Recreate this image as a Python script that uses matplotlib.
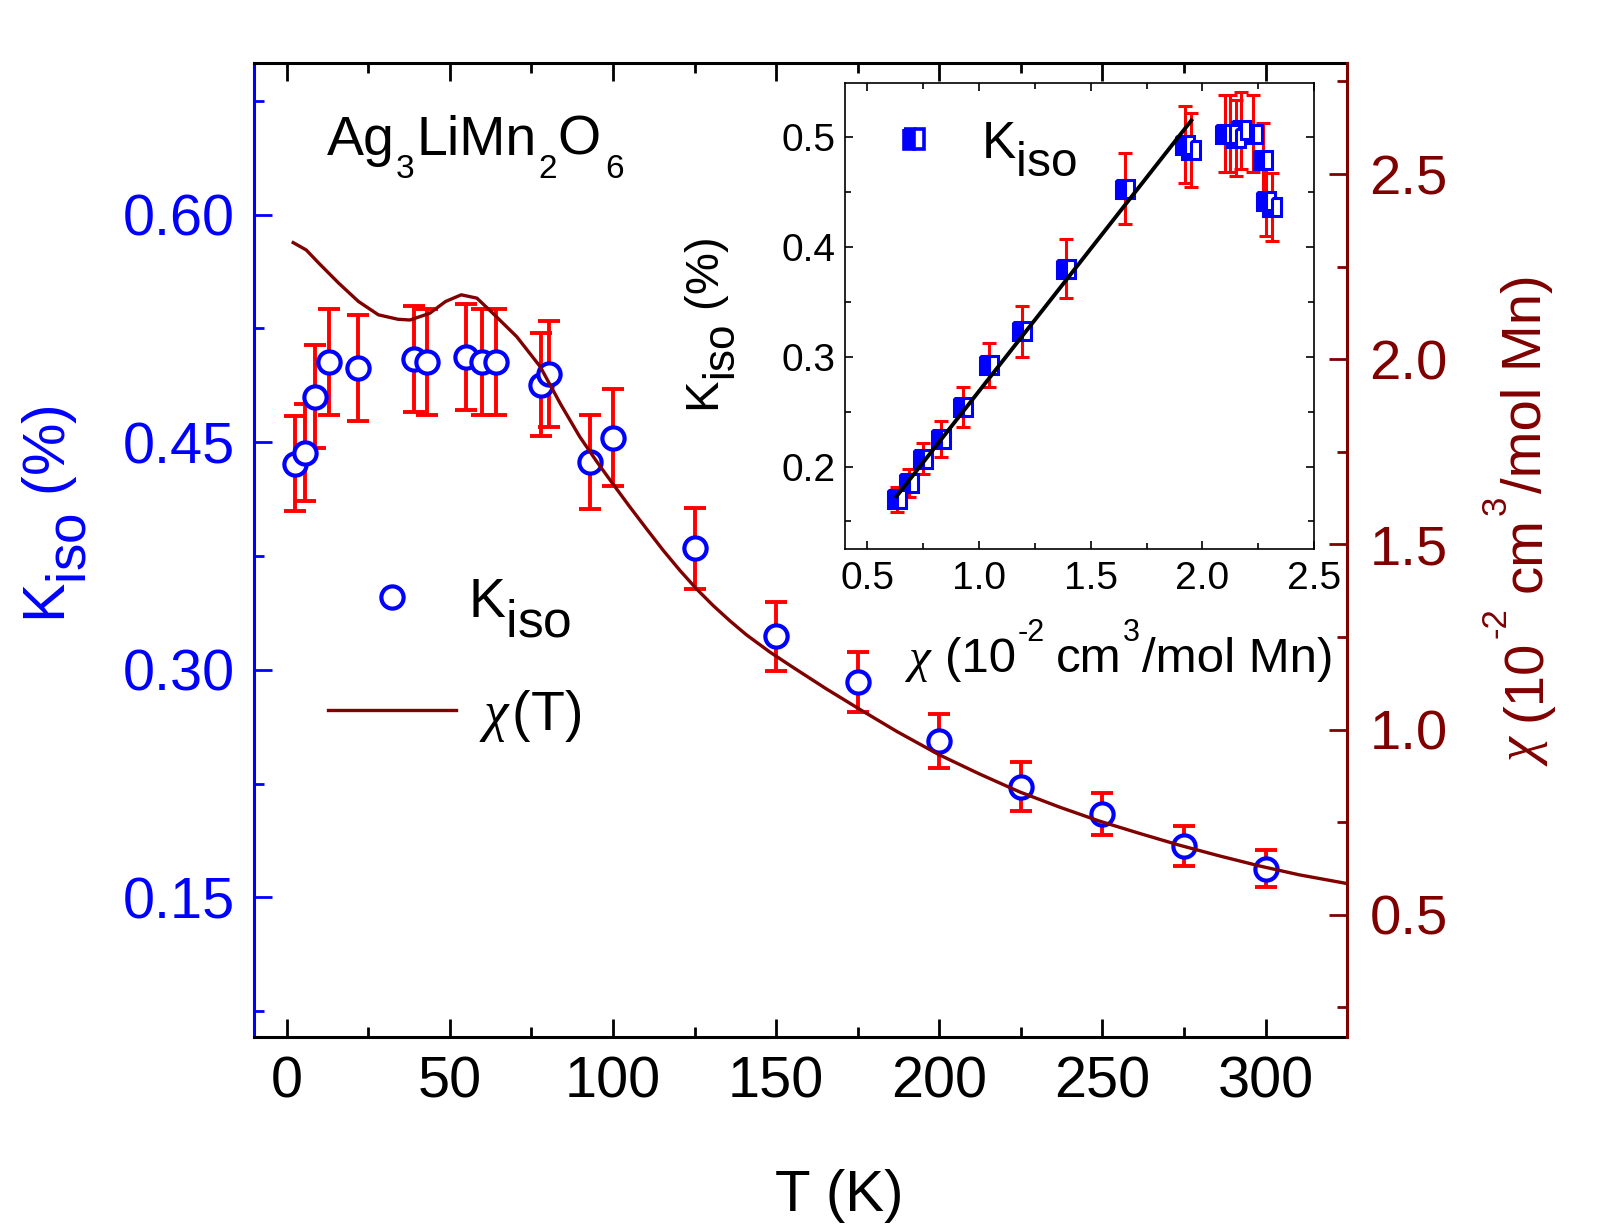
import matplotlib
matplotlib.use("Agg")
import matplotlib.pyplot as plt
import matplotlib._mathtext as _mt
from matplotlib.ticker import MultipleLocator, FormatStrFormatter
from matplotlib.lines import Line2D
from matplotlib.transforms import offset_copy

plt.rcParams['font.family'] = ['Liberation Sans', 'DejaVu Sans']
plt.rcParams['mathtext.fontset'] = 'custom'
plt.rcParams['mathtext.rm'] = 'Liberation Sans'
plt.rcParams['mathtext.it'] = 'Liberation Serif:italic'
plt.rcParams['mathtext.bf'] = 'Liberation Sans:bold'
# Origin-style subscripts: nearly full size, well lowered
_mt.SHRINK_FACTOR = 0.93
_mt.FontConstantsBase.sub1 = 0.8

# ---------------- data ----------------
T_K = [2.5, 5.5, 8.8, 13, 22, 39, 43, 55, 60, 64, 78, 80.5, 93, 100,
       125, 150, 175, 200, 225, 250, 275, 300]
K_iso = [0.436, 0.443, 0.480, 0.503, 0.499, 0.505, 0.503, 0.506, 0.503, 0.503,
         0.488, 0.495, 0.437, 0.453, 0.380, 0.322, 0.292, 0.253, 0.223, 0.205,
         0.184, 0.169]
K_err = [0.031, 0.032, 0.034, 0.035, 0.035, 0.035, 0.035, 0.035, 0.035, 0.035,
         0.034, 0.035, 0.031, 0.032, 0.027, 0.023, 0.020, 0.018, 0.016, 0.014,
         0.013, 0.012]

chi_T = [2.0, 6.0, 9.9, 16.0, 22.0, 28.1, 34.1, 37.8, 43.8, 48.7, 53.5, 58.3,
         63.2, 70.5, 77.7, 84.0, 89.8, 95.0, 100.1, 105.2, 110.3, 115.4, 120.5,
         125.6, 130.7, 135.8, 140.9, 148.0, 155.2, 165.4, 175.6, 187.0, 200.0,
         212.4, 224.6, 236.8, 249.1, 261.3, 273.6, 285.9, 298.1, 310.3, 324.6]
chi_val = [2.315, 2.295, 2.259, 2.205, 2.156, 2.120, 2.108, 2.106, 2.124, 2.156,
           2.174, 2.165, 2.124, 2.061, 1.980, 1.878, 1.791, 1.724, 1.662, 1.601,
           1.542, 1.484, 1.430, 1.380, 1.335, 1.294, 1.256, 1.210, 1.168, 1.110,
           1.055, 0.995, 0.932, 0.880, 0.832, 0.791, 0.753, 0.720, 0.688, 0.659,
           0.632, 0.608, 0.585]

inset_chi = [0.631, 0.686, 0.750, 0.830, 0.929, 1.043, 1.192, 1.390, 1.653,
             1.921, 1.948, 2.100, 2.125, 2.152, 2.174, 2.225, 2.270, 2.286, 2.314]
inset_K = [0.170, 0.185, 0.207, 0.225, 0.254, 0.292, 0.323, 0.380, 0.453,
           0.493, 0.488, 0.503, 0.503, 0.499, 0.506, 0.503, 0.479, 0.442, 0.436]
inset_err = [0.011, 0.013, 0.014, 0.016, 0.018, 0.020, 0.023, 0.027, 0.032,
             0.035, 0.034, 0.035, 0.035, 0.035, 0.035, 0.035, 0.034, 0.032, 0.031]
fit_chi = [0.631, 1.951]
fit_K = [0.173, 0.515]

BLUE = '#0000FF'
RED = '#FF0000'
DRED = '#800000'
CHI_FONT = dict(family='Liberation Serif', style='italic')

fig = plt.figure(figsize=(16.05, 12.3), dpi=100)
renderer = fig.canvas.get_renderer()


def rich(x, y, pieces, size, transform, color='black', rotation=0):
    """pieces: (text, scale, shift_em, gap_em, font-kwargs)."""
    adv = 0.0
    for text, scale, shift, gap, fkw in pieces:
        adv += gap * size
        if rotation == 0:
            dx, dy = adv, shift * size
        else:
            dx, dy = -shift * size, adv
        tr = offset_copy(transform, fig=fig, x=dx, y=dy, units='points')
        t = fig.text(x, y, text, transform=tr, fontsize=size * scale,
                     color=color, rotation=rotation, rotation_mode='anchor',
                     ha='left', va='baseline', **fkw)
        bb = t.get_window_extent(renderer)
        adv += (bb.width if rotation == 0 else bb.height) * 72.0 / fig.dpi


def chi_label_pieces(gap=0.0):
    return [('χ', 1, 0, 0, CHI_FONT), ('(10', 1, 0, 0.3 + gap, {}),
            ('-2', 0.62, 0.62, 0.03, {}), ('cm', 1, 0, 0.22 + gap, {}),
            ('3', 0.62, 0.62, 0.03, {}), ('/mol Mn)', 1, 0, 0.04, {})]


ax = fig.add_axes([0.1583, 0.1569, 0.6810, 0.7919])
ax2 = ax.twinx()

# main K data
ax.errorbar(T_K, K_iso, yerr=K_err, fmt='none', ecolor=RED, elinewidth=2.8,
            capsize=8, capthick=2.8, zorder=2)
ax.plot(T_K, K_iso, 'o', ms=16, mfc='white', mec=BLUE, mew=3, zorder=3)

ax.set_xlim(-10, 325)
ax.set_ylim(0.058, 0.70)
ax.xaxis.set_major_locator(MultipleLocator(50))
ax.xaxis.set_minor_locator(MultipleLocator(25))
ax.yaxis.set_major_locator(MultipleLocator(0.15))
ax.yaxis.set_minor_locator(MultipleLocator(0.075))
ax.yaxis.set_major_formatter(FormatStrFormatter('%.2f'))

ax.tick_params(axis='x', which='both', direction='in', top=True, bottom=True,
               width=2, labelsize=41.5, pad=13, colors='black')
ax.tick_params(axis='x', which='major', length=13)
ax.tick_params(axis='x', which='minor', length=7)
ax.tick_params(axis='y', which='both', direction='in', left=True, right=False,
               width=2, labelsize=41.5, pad=14, colors=BLUE)
ax.tick_params(axis='y', which='major', length=13)
ax.tick_params(axis='y', which='minor', length=7)

for s in ['top', 'bottom']:
    ax.spines[s].set_linewidth(2.2)
    ax.spines[s].set_color('black')
ax.spines['left'].set_linewidth(2.2)
ax.spines['left'].set_color(BLUE)
ax.spines['right'].set_visible(False)

ax.set_xlabel('T (K)', fontsize=42)
ax.xaxis.set_label_coords(0.535, -0.135)
ax.set_ylabel(r'K$_{\mathrm{iso}}$ (%)', fontsize=42.5, color=BLUE)
ax.yaxis.set_label_coords(-0.151, 0.537)

# chi(T) curve on right axis
ax2.plot(chi_T, chi_val, '-', color=DRED, lw=2.4, zorder=2)
ax2.set_ylim(0.17, 2.80)
ax2.yaxis.set_major_locator(MultipleLocator(0.5))
ax2.yaxis.set_minor_locator(MultipleLocator(0.25))
ax2.yaxis.set_major_formatter(FormatStrFormatter('%.1f'))
ax2.tick_params(axis='y', which='both', direction='in', right=True, left=False,
                width=2, labelsize=40.5, pad=16, colors=DRED)
ax2.tick_params(axis='y', which='major', length=13)
ax2.tick_params(axis='y', which='minor', length=7)
for s in ['top', 'bottom', 'left']:
    ax2.spines[s].set_visible(False)
ax2.spines['right'].set_color(DRED)
ax2.spines['right'].set_linewidth(2.2)

# right axis label (rotated, Origin-style superscripts)
rich(0.960, 0.377, chi_label_pieces(0.06), 40.5, fig.transFigure, color=DRED,
     rotation=90)

# compound formula
rich(0.2036, 0.874,
     [('Ag', 1, 0, 0, {}), ('3', 0.6, -0.41, 0.01, {}),
      ('LiMn', 1, 0, 0.04, {}), ('2', 0.6, -0.41, 0.04, {}),
      ('O', 1, 0, 0.01, {}), ('6', 0.6, -0.41, 0.09, {})],
     40, fig.transFigure)

h1 = Line2D([], [], ls='none', marker='o', ms=16, mfc='white', mec=BLUE, mew=3)
h2 = Line2D([], [], color=DRED, lw=2.4)
ax2.legend([h1, h2], [r'K$_{\mathrm{iso}}$', r'$\hspace{0.38}\chi\hspace{0.1}$(T)'],
           loc='upper left', bbox_to_anchor=(0.068, 0.473), frameon=False,
           fontsize=40, handlelength=2.3, handletextpad=0.22,
           labelspacing=0.87, borderpad=0, borderaxespad=0)

# ---------------- inset ----------------
ins = fig.add_axes([0.5265, 0.5537, 0.2922, 0.3788])
ins.errorbar(inset_chi, inset_K, yerr=inset_err, fmt='none', ecolor=RED,
             elinewidth=2.2, capsize=5, capthick=2.2, zorder=2)
ins.plot(inset_chi, inset_K, 's', ms=13, fillstyle='left', mfc=BLUE,
         mfcalt='white', mec=BLUE, mew=2.2, zorder=3)
ins.plot(fit_chi, fit_K, '-', color='black', lw=2.8, zorder=4)
ins.set_xlim(0.4, 2.5)
ins.set_ylim(0.125, 0.549)
ins.xaxis.set_major_locator(MultipleLocator(0.5))
ins.xaxis.set_minor_locator(MultipleLocator(0.25))
ins.yaxis.set_major_locator(MultipleLocator(0.1))
ins.yaxis.set_minor_locator(MultipleLocator(0.05))
ins.xaxis.set_major_formatter(FormatStrFormatter('%.1f'))
ins.yaxis.set_major_formatter(FormatStrFormatter('%.1f'))
ins.tick_params(which='both', direction='in', top=True, right=True,
                width=1.2, labelsize=28)
ins.tick_params(which='major', length=6)
ins.tick_params(which='minor', length=4)
ins.tick_params(axis='y', pad=7)
ins.tick_params(axis='x', pad=9)
for s in ins.spines.values():
    s.set_linewidth(1.2)
ins.set_ylabel(r'K$_{\mathrm{iso}}$ (%)', fontsize=34)
ins.yaxis.set_label_coords(-0.228, 0.48)

rich(0.5664, 0.4537, chi_label_pieces(), 35.5, fig.transFigure)

hs = Line2D([], [], ls='none', marker='s', ms=15, fillstyle='left', mfc=BLUE,
            mfcalt='white', mec=BLUE, mew=2.6)
ins.legend([hs], [r'K$_{\mathrm{iso}}$'], loc='upper left',
           bbox_to_anchor=(0.0375, 0.922), frameon=False, fontsize=37,
           handlelength=2.0, handletextpad=0.3, borderpad=0, borderaxespad=0)

fig.savefig('out.png', dpi=100)
